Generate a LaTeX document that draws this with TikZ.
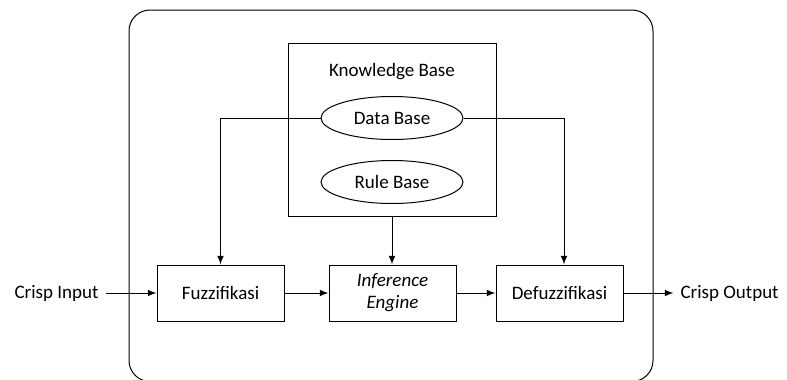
\documentclass[tikz,border=0pt]{standalone}
\usepackage{fontspec}
\setmainfont{Carlito}
\usetikzlibrary{positioning, arrows, shapes.geometric}

\begin{document}
\begin{tikzpicture}[x=0.5pt,y=-0.5pt,>=latex,
	every node/.style={font=\fontsize{9.5}{11}\selectfont},
	blok/.style={draw,line width=0.5pt,minimum width=63.5pt,minimum height=28pt,inner sep=0pt,align=center},
	basis/.style={draw,ellipse,line width=0.5pt,minimum width=71pt,minimum height=21.5pt,inner sep=0pt},
	garis/.style={line width=0.5pt}]
	\useasboundingbox (0,0) rectangle (787,380);
	\draw[garis,rounded corners=10.5pt] (129,10) rectangle (653,381.5);
	\node[draw,line width=0.5pt,minimum width=104pt,minimum height=86.5pt] (kb) at (392,129.5) {};
	\node (kbjudul) at (392,72) {Knowledge Base};
	\node[basis] (db) at (392,118) {Data Base};
	\node[basis] (rb) [below =10pt of db] {Rule Base};
	\node[blok] (fuz) at (220.5,293) {Fuzzifikasi};
	\node[blok] (inf) [right =22pt of fuz] {\itshape Inference\\\itshape Engine};
	\node[blok] (defuz) [right =19.5pt of inf] {Defuzzifikasi};
	\node (input) [left =25.5pt of fuz] {Crisp Input};
	\node (output) [right =25pt of defuz] {Crisp Output};
	\coordinate (kanan) at (564,118);
	\path[garis,->]
	(input) edge (fuz)
	(fuz) edge (inf)
	(inf) edge (defuz)
	(defuz) edge (output)
	(kb.south) edge (kb.south |- inf.north)
	;
	\draw[garis,->] (db.west) -| (fuz.north);
	\draw[garis,->] (db.east) -- (kanan) -- (kanan |- defuz.north);
\end{tikzpicture}
\end{document}
